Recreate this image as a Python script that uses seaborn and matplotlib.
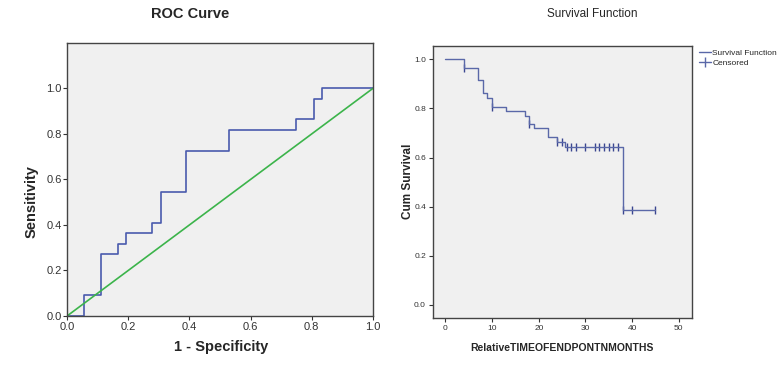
import matplotlib
matplotlib.use('Agg')
import matplotlib.pyplot as plt
import seaborn as sns
import pandas as pd
from matplotlib.lines import Line2D

# ROC curve points (1 - specificity, sensitivity)
roc_fpr = [0.0, 0.056, 0.056, 0.111, 0.111, 0.167, 0.167, 0.194, 0.194, 0.278, 0.278,
           0.306, 0.306, 0.389, 0.389, 0.528, 0.528, 0.75, 0.75, 0.806, 0.806, 0.833, 0.833, 1.0]
roc_tpr = [0.0, 0.0, 0.091, 0.091, 0.273, 0.273, 0.318, 0.318, 0.364, 0.364, 0.409,
           0.409, 0.545, 0.545, 0.727, 0.727, 0.818, 0.818, 0.864, 0.864, 0.955, 0.955, 1.0, 1.0]
ref_line = [0.0, 1.0]

# Kaplan-Meier survival steps
surv_time = [0, 4, 7, 8, 9, 10, 13, 17, 18, 19, 22, 24, 25.6, 38, 45]
surv_prob = [1.0, 0.965, 0.914, 0.862, 0.844, 0.808, 0.789, 0.770, 0.736, 0.719, 0.683,
             0.663, 0.643, 0.385, 0.385]
cens_time = [4, 10, 18, 24, 25, 26, 27, 28, 30, 32, 33, 34, 35, 36, 37, 38, 40, 45]
cens_prob = [0.965, 0.808, 0.736, 0.663, 0.663, 0.643, 0.643, 0.643, 0.643, 0.643, 0.643,
             0.643, 0.643, 0.643, 0.643, 0.385, 0.385, 0.385]

ticks01 = [0, 0.2, 0.4, 0.6, 0.8, 1.0]
tick_labels01 = ['0.0', '0.2', '0.4', '0.6', '0.8', '1.0']

sns.set_style('ticks', {'axes.facecolor': '#f0f0f0', 'axes.edgecolor': '#444444'})
plt.rcParams['font.family'] = ['Liberation Sans', 'DejaVu Sans']

fig = plt.figure(figsize=(7.8, 3.7), dpi=100)

# ---- ROC curve
ax1 = fig.add_axes([0.086, 0.146, 0.392, 0.738])
df_roc = pd.DataFrame({'fpr': roc_fpr, 'tpr': roc_tpr})
sns.lineplot(data=df_roc, x='fpr', y='tpr', sort=False, estimator=None, color='#4a5aad', linewidth=1.2, ax=ax1)
sns.lineplot(x=ref_line, y=ref_line, color='#3cb44b', linewidth=1.2, ax=ax1)
ax1.set_xlim(0, 1)
ax1.set_ylim(0, 1.2)
ax1.set_xticks(ticks01)
ax1.set_yticks(ticks01)
ax1.set_xticklabels(tick_labels01)
ax1.set_yticklabels(tick_labels01)
ax1.tick_params(labelsize=8, length=3, width=0.8, colors='#333333', pad=1)
ax1.set_xlabel('')
ax1.set_ylabel('')
for s in ax1.spines.values():
    s.set_visible(True)
    s.set_linewidth(1.0)
fig.text(0.244, 0.963, 'ROC Curve', ha='center', va='center', fontsize=10.5, fontweight='bold')
fig.text(0.283, 0.062, '1 - Specificity', ha='center', va='center', fontsize=10.5, fontweight='bold')
fig.text(0.040, 0.455, 'Sensitivity', ha='center', va='center', rotation=90, fontsize=10.5, fontweight='bold')

# ---- Survival function
ax2 = fig.add_axes([0.555, 0.141, 0.332, 0.735])
df_s = pd.DataFrame({'t': surv_time, 'p': surv_prob})
sns.lineplot(data=df_s, x='t', y='p', sort=False, estimator=None, drawstyle='steps-post',
             color='#5a68a8', linewidth=1.0, ax=ax2)
sns.scatterplot(x=cens_time, y=cens_prob, marker='|', s=30, linewidth=1.0, color='#3a4690', ax=ax2)
ax2.set_xlim(-2.7, 52.8)
ax2.set_ylim(-0.053, 1.055)
ax2.set_xticks([0, 10, 20, 30, 40, 50])
ax2.set_yticks(ticks01)
ax2.set_yticklabels(tick_labels01)
ax2.tick_params(labelsize=6, length=3, width=0.8, colors='#333333', pad=2)
ax2.set_xlabel('')
ax2.set_ylabel('')
for s in ax2.spines.values():
    s.set_visible(True)
    s.set_linewidth(1.0)
fig.text(0.759, 0.962, 'Survival Function', ha='center', va='center', fontsize=8.5)
fig.text(0.721, 0.060, 'RelativeTIMEOFENDPONTNMONTHS', ha='center', va='center', fontsize=7.5,
         fontweight='bold')
fig.text(0.523, 0.509, 'Cum Survival', ha='center', va='center', rotation=90, fontsize=8.5, fontweight='bold')

handles = [Line2D([], [], color='#5a68a8', linewidth=1.0, drawstyle='steps-post'),
           Line2D([], [], color='#5a68a8', linewidth=1.0, marker='|', markersize=7)]
fig.legend(handles, ['Survival Function', 'Censored'], loc='upper left', bbox_to_anchor=(0.894, 0.872),
           frameon=False, handlelength=1.4, handletextpad=0.2, labelspacing=0.3,
           borderaxespad=0, borderpad=0.2, prop={'size': 6})

fig.savefig('out.png', dpi=100)
